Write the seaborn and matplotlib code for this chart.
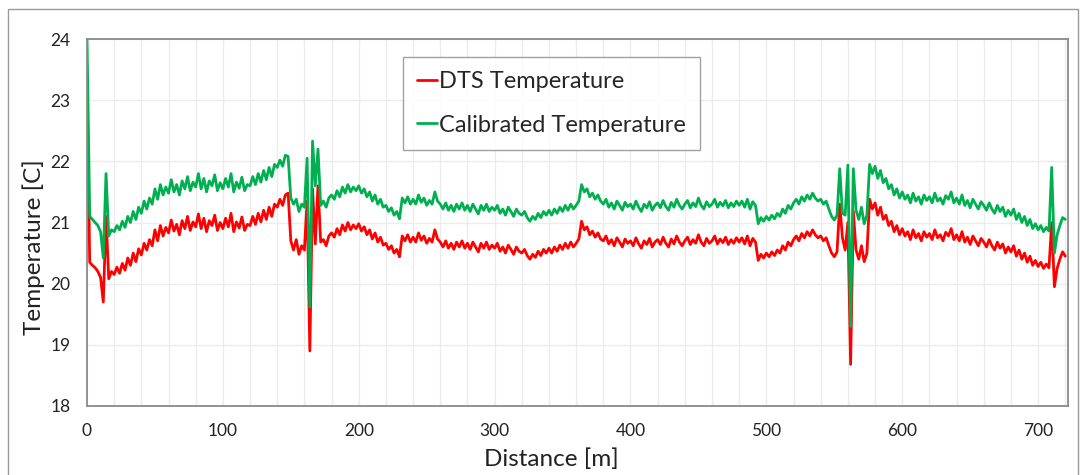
import numpy as np
import pandas as pd
import matplotlib
matplotlib.use("Agg")
import matplotlib.pyplot as plt
from matplotlib.patches import Rectangle
from matplotlib.ticker import MultipleLocator
import seaborn as sns

# Distance grid along the fibre [m] (2 m sampling, 0..720)
distance = np.arange(0, 721, 2)

calibrated = [
    24.00, 21.10, 21.05, 21.00, 20.95, 20.85, 20.42, 21.80, 20.78, 20.88,
    20.85, 20.95, 20.88, 21.02, 20.92, 21.10, 21.00, 21.18, 21.05, 21.25,
    21.15, 21.35, 21.22, 21.40, 21.30, 21.55, 21.38, 21.62, 21.45, 21.58,
    21.48, 21.70, 21.50, 21.62, 21.45, 21.68, 21.55, 21.75, 21.52, 21.66,
    21.58, 21.80, 21.55, 21.72, 21.50, 21.68, 21.60, 21.78, 21.52, 21.65,
    21.55, 21.72, 21.58, 21.80, 21.50, 21.66, 21.56, 21.74, 21.52, 21.62,
    21.60, 21.75, 21.62, 21.80, 21.66, 21.85, 21.70, 21.90, 21.75, 21.95,
    21.90, 22.02, 21.92, 22.10, 22.08, 21.40, 21.30, 21.38, 21.18, 21.30,
    21.25, 22.05, 19.62, 22.33, 21.60, 22.20, 21.28, 21.35, 21.25, 21.40,
    21.45, 21.38, 21.52, 21.42, 21.58, 21.48, 21.62, 21.50, 21.58, 21.52,
    21.60, 21.48, 21.55, 21.42, 21.50, 21.35, 21.45, 21.30, 21.38, 21.25,
    21.28, 21.18, 21.24, 21.12, 21.18, 21.06, 21.40, 21.32, 21.42, 21.30,
    21.38, 21.30, 21.45, 21.33, 21.40, 21.28, 21.36, 21.30, 21.50, 21.35,
    21.30, 21.22, 21.32, 21.20, 21.28, 21.18, 21.30, 21.22, 21.32, 21.20,
    21.28, 21.18, 21.30, 21.22, 21.14, 21.28, 21.20, 21.30, 21.18, 21.25,
    21.20, 21.28, 21.15, 21.22, 21.12, 21.25, 21.18, 21.10, 21.22, 21.15,
    21.12, 21.18, 21.08, 21.02, 21.10, 21.05, 21.15, 21.08, 21.18, 21.12,
    21.20, 21.12, 21.22, 21.15, 21.25, 21.18, 21.28, 21.20, 21.30, 21.22,
    21.28, 21.35, 21.62, 21.50, 21.55, 21.42, 21.48, 21.38, 21.45, 21.35,
    21.30, 21.38, 21.25, 21.32, 21.22, 21.35, 21.28, 21.20, 21.33, 21.26,
    21.30, 21.22, 21.35, 21.25, 21.18, 21.30, 21.24, 21.34, 21.20, 21.28,
    21.32, 21.24, 21.36, 21.26, 21.20, 21.33, 21.25, 21.38, 21.28, 21.22,
    21.30, 21.36, 21.24, 21.32, 21.26, 21.40, 21.28, 21.22, 21.34, 21.26,
    21.30, 21.38, 21.25, 21.33, 21.27, 21.36, 21.24, 21.32, 21.26, 21.35,
    21.28, 21.35, 21.25, 21.38, 21.22, 21.34, 21.28, 20.98, 21.08, 21.02,
    21.10, 21.04, 21.12, 21.06, 21.15, 21.10, 21.22, 21.15, 21.28, 21.22,
    21.32, 21.38, 21.30, 21.42, 21.35, 21.45, 21.38, 21.48, 21.40, 21.35,
    21.38, 21.30, 21.35, 21.22, 21.10, 21.04, 21.12, 21.88, 21.15, 21.12,
    21.94, 19.30, 21.88, 21.20, 21.05, 21.25, 20.98, 21.12, 21.95, 21.80,
    21.92, 21.72, 21.85, 21.65, 21.72, 21.55, 21.62, 21.45, 21.55, 21.40,
    21.50, 21.38, 21.45, 21.32, 21.48, 21.35, 21.42, 21.30, 21.45, 21.36,
    21.42, 21.32, 21.48, 21.35, 21.40, 21.30, 21.44, 21.38, 21.50, 21.32,
    21.40, 21.30, 21.45, 21.28, 21.36, 21.24, 21.38, 21.30, 21.22, 21.34,
    21.28, 21.20, 21.32, 21.22, 21.15, 21.28, 21.18, 21.25, 21.10, 21.20,
    21.12, 21.22, 21.05, 21.15, 21.00, 21.10, 20.95, 21.05, 20.90, 20.98,
    20.88, 20.95, 20.85, 20.92, 20.86, 21.90, 20.50, 20.80, 20.95, 21.08,
    21.05,
]

dts = [
    23.30, 20.35, 20.30, 20.26, 20.20, 20.10, 19.70, 21.10, 20.08, 20.20,
    20.15, 20.27, 20.17, 20.33, 20.22, 20.42, 20.30, 20.50, 20.36, 20.57,
    20.47, 20.66, 20.55, 20.72, 20.62, 20.88, 20.70, 20.95, 20.78, 20.92,
    20.83, 21.04, 20.86, 20.97, 20.80, 21.03, 20.90, 21.10, 20.87, 21.01,
    20.93, 21.14, 20.90, 21.07, 20.85, 21.03, 20.95, 21.12, 20.87, 21.00,
    20.90, 21.07, 20.93, 21.15, 20.85, 21.01, 20.91, 21.09, 20.87, 20.97,
    20.95, 21.10, 20.97, 21.15, 21.01, 21.20, 21.05, 21.25, 21.10, 21.30,
    21.25, 21.38, 21.28, 21.45, 21.48, 20.70, 20.55, 20.72, 20.48, 20.62,
    20.55, 21.35, 18.90, 21.55, 20.65, 21.60, 20.68, 20.72, 20.62, 20.78,
    20.83, 20.76, 20.90, 20.80, 20.96, 20.86, 21.00, 20.88, 20.96, 20.90,
    20.98, 20.86, 20.93, 20.80, 20.88, 20.73, 20.83, 20.68, 20.76, 20.63,
    20.66, 20.56, 20.62, 20.50, 20.56, 20.44, 20.78, 20.70, 20.80, 20.68,
    20.76, 20.68, 20.83, 20.71, 20.78, 20.66, 20.74, 20.68, 20.88, 20.73,
    20.68, 20.60, 20.70, 20.58, 20.66, 20.56, 20.68, 20.60, 20.70, 20.58,
    20.66, 20.56, 20.68, 20.60, 20.52, 20.66, 20.58, 20.68, 20.56, 20.63,
    20.58, 20.66, 20.53, 20.60, 20.50, 20.63, 20.56, 20.48, 20.60, 20.53,
    20.50, 20.56, 20.46, 20.40, 20.48, 20.43, 20.53, 20.46, 20.56, 20.50,
    20.58, 20.50, 20.60, 20.53, 20.63, 20.56, 20.66, 20.58, 20.68, 20.60,
    20.66, 20.73, 21.02, 20.88, 20.93, 20.80, 20.86, 20.76, 20.83, 20.73,
    20.70, 20.78, 20.65, 20.72, 20.62, 20.75, 20.68, 20.60, 20.73, 20.66,
    20.70, 20.62, 20.75, 20.65, 20.58, 20.70, 20.64, 20.74, 20.60, 20.68,
    20.72, 20.64, 20.76, 20.66, 20.60, 20.73, 20.65, 20.78, 20.68, 20.62,
    20.70, 20.76, 20.64, 20.72, 20.66, 20.80, 20.68, 20.62, 20.74, 20.66,
    20.70, 20.78, 20.65, 20.73, 20.67, 20.76, 20.64, 20.72, 20.66, 20.75,
    20.68, 20.75, 20.65, 20.78, 20.62, 20.74, 20.68, 20.38, 20.48, 20.42,
    20.50, 20.44, 20.52, 20.46, 20.55, 20.50, 20.62, 20.55, 20.68, 20.62,
    20.72, 20.78, 20.70, 20.82, 20.75, 20.85, 20.78, 20.88, 20.80, 20.75,
    20.78, 20.70, 20.75, 20.62, 20.50, 20.44, 20.52, 21.30, 20.75, 20.55,
    21.00, 18.68, 21.18, 20.55, 20.40, 20.62, 20.36, 20.50, 21.38, 21.22,
    21.32, 21.12, 21.25, 21.05, 21.12, 20.95, 21.02, 20.85, 20.95, 20.80,
    20.90, 20.78, 20.85, 20.72, 20.88, 20.75, 20.82, 20.70, 20.85, 20.76,
    20.82, 20.72, 20.88, 20.75, 20.80, 20.70, 20.84, 20.78, 20.90, 20.72,
    20.80, 20.70, 20.85, 20.68, 20.76, 20.64, 20.78, 20.70, 20.62, 20.74,
    20.68, 20.60, 20.72, 20.62, 20.55, 20.68, 20.58, 20.65, 20.50, 20.60,
    20.52, 20.62, 20.45, 20.55, 20.40, 20.50, 20.35, 20.45, 20.30, 20.38,
    20.28, 20.35, 20.25, 20.32, 20.26, 21.00, 19.95, 20.25, 20.40, 20.52,
    20.45,
]

series_names = ["DTS Temperature", "Calibrated Temperature"]
series_colors = ["#FF0000", "#00B050"]
x_ticks = [0, 100, 200, 300, 400, 500, 600, 700]
y_ticks = [18, 19, 20, 21, 22, 23, 24]

df = pd.DataFrame({
    "Distance": np.concatenate([distance, distance]),
    "Temperature": np.concatenate([dts, calibrated]),
    "Series": [series_names[0]] * len(distance) + [series_names[1]] * len(distance),
})

sns.set_style("white")
plt.rcParams["font.family"] = ["Lato", "DejaVu Sans"]

fig = plt.figure(figsize=(10.81, 4.75), dpi=100)
ax = fig.add_axes([87 / 1081, 1 - 406 / 475, (1068 - 87) / 1081, (406 - 39) / 475])

sns.lineplot(data=df, x="Distance", y="Temperature", hue="Series",
             hue_order=series_names, palette=series_colors,
             linewidth=2.0, ax=ax, sort=False, estimator=None)

ax.set_xlim(0, 722)
ax.set_ylim(18, 24)
ax.set_xticks(x_ticks)
ax.set_yticks(y_ticks)
ax.xaxis.set_minor_locator(MultipleLocator(20))
ax.grid(True, which="both", color="#ececec", linewidth=1.0)
ax.set_axisbelow(True)
ax.tick_params(axis="both", which="both", length=0, labelsize=12.5, colors="#222222")
ax.tick_params(axis="x", pad=12)
ax.tick_params(axis="y", pad=12)
for s in ax.spines.values():
    s.set_color("#8a8a8a")
    s.set_linewidth(1.3)

ax.set_xlabel("Distance [m]", fontsize=17.5, color="#222222")
ax.set_ylabel("Temperature [C]", fontsize=17.5, color="#222222")
ax.xaxis.set_label_coords((551 - 87) / 981, -0.115)
ax.yaxis.set_label_coords(-0.043, (406 - 247) / 367)

leg = ax.legend(loc="upper left", bbox_to_anchor=(403 / 1081, 1 - 57 / 475),
                bbox_transform=fig.transFigure, borderaxespad=0,
                fontsize=17, frameon=True, fancybox=False, shadow=False,
                handlelength=0.85, handletextpad=0.08, labelspacing=0.95,
                borderpad=0.6, title=None)
leg.get_frame().set_edgecolor("#8a8a8a")
leg.get_frame().set_linewidth(1.0)
for line in leg.get_lines():
    line.set_linewidth(2.0)

fig.patches.append(Rectangle((8 / 1081, -0.01), (1078 - 8) / 1081, 1 - 9 / 475 + 0.01,
                             transform=fig.transFigure, fill=False,
                             edgecolor="#9a9a9a", linewidth=1.0))

fig.savefig("out.png", dpi=100)
